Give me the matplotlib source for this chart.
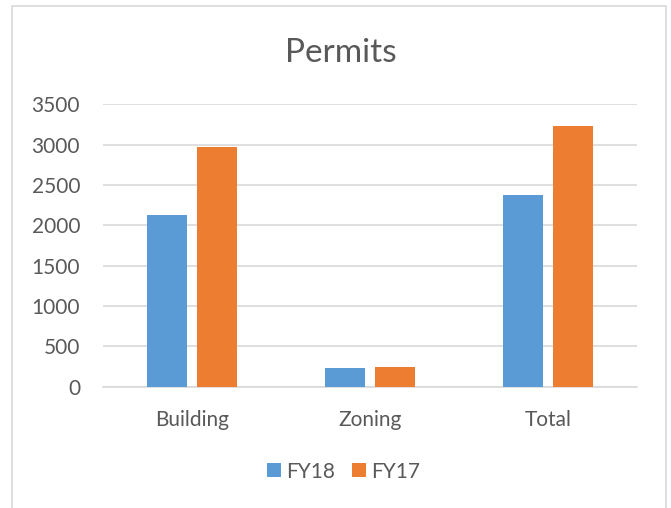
import matplotlib.pyplot as plt
import numpy as np

plt.rcParams['font.family'] = ['Lato', 'DejaVu Sans']

categories = ['Building', 'Zoning', 'Total']
fy18 = [2130, 235, 2375]
fy17 = [2975, 240, 3225]
series_names = ['FY18', 'FY17']
colors = ['#5B9BD5', '#ED7D31']
text_color = '#595959'

fig = plt.figure(figsize=(6.71, 5.08), dpi=100)
# light grey chart border like the Excel chart area
fig.patches.append(plt.Rectangle((12 / 671, -0.01), 654 / 671, 1 - 6 / 508 + 0.01,
                                 transform=fig.transFigure, fill=False,
                                 edgecolor='#D9D9D9', linewidth=1.2))

ax = fig.add_axes([103 / 671, 1 - 386.7 / 508, 534 / 671, (386.7 - 104.3) / 508])
x = np.arange(len(categories))
w = 0.225
off = 0.143
ax.bar(x - off, fy18, w, color=colors[0], label=series_names[0], zorder=3)
ax.bar(x + off, fy17, w, color=colors[1], label=series_names[1], zorder=3)

ax.set_xlim(-0.5, 2.5)
ax.set_ylim(0, 3500)
ax.set_yticks(range(0, 3501, 500))
ax.yaxis.grid(True, color='#D9D9D9', linewidth=1.2, zorder=0)
ax.set_xticks(x)
ax.set_xticklabels(categories)
for s in ax.spines.values():
    s.set_visible(False)
ax.spines['bottom'].set_visible(True)
ax.spines['bottom'].set_color('#D9D9D9')
ax.spines['bottom'].set_linewidth(1.2)
ax.tick_params(length=0, labelsize=15, colors=text_color)
ax.tick_params(axis='y', pad=16.5)
ax.tick_params(axis='x', pad=17)

fig.text(341.3 / 671, 1 - 52.5 / 508, 'Permits', ha='center', va='center',
         fontsize=24, color=text_color)

fig.legend(loc='center', bbox_to_anchor=(343.7 / 671, 1 - 471.7 / 508),
           ncol=2, frameon=False, fontsize=15, labelcolor=text_color,
           handlelength=0.65, handleheight=0.65, handletextpad=0.27, columnspacing=0.8)

plt.savefig('out.png', dpi=100)
